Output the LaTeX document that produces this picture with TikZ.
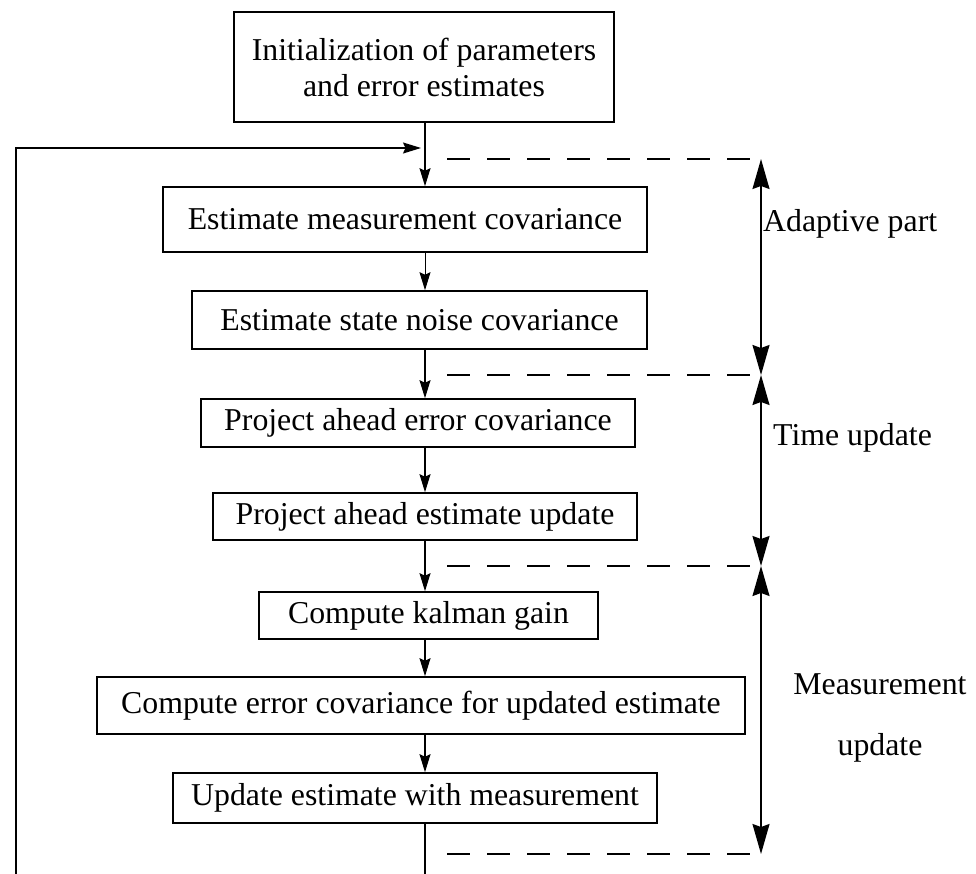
\documentclass[tikz,border=0pt]{standalone}
\usepackage{fontspec}
\setmainfont{Liberation Serif}
\usetikzlibrary{arrows.meta}

\newcommand{\flowfont}{\fontsize{31.8}{36}\selectfont}

\tikzset{
  box/.style={draw, line width=1.6pt, inner sep=0pt, align=center, font=\flowfont},
  flow/.style={line width=1.4pt, -{Stealth[length=18pt,width=11pt,inset=2.5pt]}},
  plain/.style={line width=1.4pt},
  span/.style={line width=1.6pt,
    {Stealth[length=30pt,width=17pt,inset=3pt]}-{Stealth[length=30pt,width=17pt,inset=3pt]}},
  sep/.style={line width=1.6pt, dash pattern=on 23pt off 17pt},
  phase/.style={font=\flowfont, inner sep=0pt, align=center},
}

\begin{document}
\begin{tikzpicture}[x=1pt, y=-1pt]
  \useasboundingbox (0,0) rectangle (976,874);

  % processing steps
  \node[box, minimum width=380pt, minimum height=110pt] (init) at (424,67)
    {Initialization of parameters\\and error estimates};
  \node[box, minimum width=484pt, minimum height=65pt] (meascov) at (405,219.5)
    {Estimate measurement covariance};
  \node[box, minimum width=455pt, minimum height=58pt] (statecov) at (419.5,320)
    {Estimate state noise covariance};
  \node[box, minimum width=434pt, minimum height=48pt] (projcov) at (418,423)
    {Project ahead error covariance};
  \node[box, minimum width=424pt, minimum height=47pt] (projest) at (425,516.5)
    {Project ahead estimate update};
  \node[box, minimum width=339pt, minimum height=47pt] (gain) at (428.5,615.5)
    {Compute kalman gain};
  \node[box, minimum width=648pt, minimum height=57pt] (errcov) at (421,705.5)
    {Compute error covariance for updated estimate};
  \node[box, minimum width=484pt, minimum height=50pt] (update) at (415,798)
    {Update estimate with measurement};

  % main flow axis and loose ends
  \coordinate (axis) at (425,0);
  \coordinate (loopbot) at (16,874);
  \coordinate (loopturn) at (16,148);
  \coordinate (loopin) at (421,148);
  \coordinate (outend) at (425,874);

  % phase separators
  \coordinate (sepA) at (447,159);  \coordinate (sepAe) at (761,159);
  \coordinate (sepB) at (447,375);  \coordinate (sepBe) at (761,375);
  \coordinate (sepC) at (447,566);  \coordinate (sepCe) at (761,566);
  \coordinate (sepD) at (447,854);  \coordinate (sepDe) at (761,854);

  % flow connectors
  \draw[flow] (init.south -| axis) -- (meascov.north -| axis);
  \draw[flow, line width=1pt] (meascov.south -| axis) -- (statecov.north -| axis);
  \draw[flow] (statecov.south -| axis) -- (projcov.north -| axis);
  \draw[flow] (projcov.south -| axis) -- (projest.north -| axis);
  \draw[flow] (projest.south -| axis) -- (gain.north -| axis);
  \draw[flow] (gain.south -| axis) -- (errcov.north -| axis);
  \draw[flow] (errcov.south -| axis) -- (update.north -| axis);
  \draw[plain] (update.south -| axis) -- (outend);

  % feedback loop
  \draw[flow] (loopbot) -- (loopturn) -- (loopin);

  % dashed phase boundaries
  \draw[sep] (sepA) -- (sepAe);
  \draw[sep] (sepB) -- (sepBe);
  \draw[sep] (sepC) -- (sepCe);
  \draw[sep] (sepD) -- (sepDe);

  % phase extents
  \draw[span] (sepAe) -- (sepBe);
  \draw[span] (sepBe) -- (sepCe);
  \draw[span] (sepCe) -- (sepDe);

  % phase labels
  \node[phase, anchor=west] (adaptive) at (763,224) {Adaptive part};
  \node[phase, anchor=west] (timeupd) at (773,438) {Time update};
  \node[phase] (measupd) at (880,684) {Measurement};
  \node[phase] (measupd2) at (880,748) {update};
\end{tikzpicture}
\end{document}
